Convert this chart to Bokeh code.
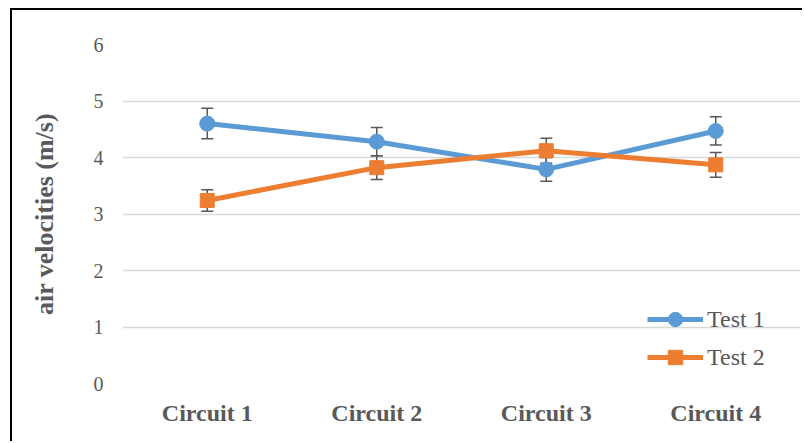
from bokeh.plotting import figure
from bokeh.models import (Range1d, FactorRange, ColumnDataSource, Whisker, TeeHead,
                          Legend, LegendItem)
from bokeh.embed import file_html
from bokeh.resources import INLINE

categories = ["Circuit 1", "Circuit 2", "Circuit 3", "Circuit 4"]
test1 = [4.60, 4.28, 3.79, 4.47]
test1_err = [0.27, 0.25, 0.21, 0.25]
test2 = [3.24, 3.82, 4.12, 3.87]
test2_err = [0.19, 0.21, 0.22, 0.22]
y_ticks = [0, 1, 2, 3, 4, 5, 6]

FONT = "Liberation Serif"
GRAY = "#595959"
BLUE = "#5B9BD5"
ORANGE = "#ED7D31"

# figure sits 12px from the left and 10px from the top, behind a black border
p = figure(width=792, height=433, x_range=FactorRange(*categories),
           y_range=Range1d(0, 6), output_backend="svg", toolbar_location=None,
           min_border_left=110, min_border_right=4, min_border_top=34,
           min_border_bottom=60)
p.styles = {"margin-left": "10px", "margin-top": "8px",
            "border-left": "2px solid black", "border-top": "2px solid black"}
p.outline_line_color = None
p.background_fill_color = "white"
p.border_fill_color = "white"

# axes
p.yaxis.ticker = y_ticks
p.yaxis.axis_line_color = None
p.yaxis.major_tick_line_color = None
p.yaxis.minor_tick_line_color = None
p.yaxis.major_label_text_font = FONT
p.yaxis.major_label_text_font_size = "20px"
p.yaxis.major_label_text_color = GRAY
p.yaxis.major_label_standoff = 13
p.yaxis.axis_label = "air velocities (m/s)"
p.yaxis.axis_label_text_font = FONT
p.yaxis.axis_label_text_font_size = "26px"
p.yaxis.axis_label_text_font_style = "bold"
p.yaxis.axis_label_text_color = GRAY
p.yaxis.axis_label_standoff = 32

p.xaxis.axis_line_color = None
p.xaxis.major_tick_line_color = None
p.xaxis.minor_tick_line_color = None
p.xaxis.major_label_text_font = FONT
p.xaxis.major_label_text_font_size = "24px"
p.xaxis.major_label_text_font_style = "bold"
p.xaxis.major_label_text_color = GRAY
p.xaxis.major_label_standoff = 10

p.xgrid.grid_line_color = None
p.ygrid.grid_line_color = "#D9D9D9"
p.ygrid.grid_line_width = 1.5

src1 = ColumnDataSource(dict(x=categories, y=test1,
                             lo=[v - e for v, e in zip(test1, test1_err)],
                             hi=[v + e for v, e in zip(test1, test1_err)]))
src2 = ColumnDataSource(dict(x=categories, y=test2,
                             lo=[v - e for v, e in zip(test2, test2_err)],
                             hi=[v + e for v, e in zip(test2, test2_err)]))

for src in (src1, src2):
    w = Whisker(base="x", lower="lo", upper="hi", source=src,
                line_color=GRAY, line_width=1.5, level="underlay",
                upper_head=TeeHead(size=12, line_color=GRAY, line_width=1.5),
                lower_head=TeeHead(size=12, line_color=GRAY, line_width=1.5))
    p.add_layout(w)

l1 = p.line("x", "y", source=src1, line_color=BLUE, line_width=5)
m1 = p.scatter("x", "y", source=src1, marker="circle", size=15,
               fill_color=BLUE, line_color=BLUE)
l2 = p.line("x", "y", source=src2, line_color=ORANGE, line_width=5)
m2 = p.scatter("x", "y", source=src2, marker="square", size=14,
               fill_color=ORANGE, line_color=ORANGE)

legend = Legend(items=[LegendItem(label="Test 1", renderers=[l1, m1]),
                       LegendItem(label="Test 2", renderers=[l2, m2])],
                location=(525, 8), orientation="vertical",
                glyph_width=56, glyph_height=36, label_height=36,
                spacing=2, padding=0, margin=0, label_standoff=4,
                label_text_font=FONT, label_text_font_size="24px",
                label_text_color=GRAY, border_line_color=None,
                background_fill_alpha=0)
p.add_layout(legend, "center")

open("out.html", "w").write(file_html(p, INLINE))
